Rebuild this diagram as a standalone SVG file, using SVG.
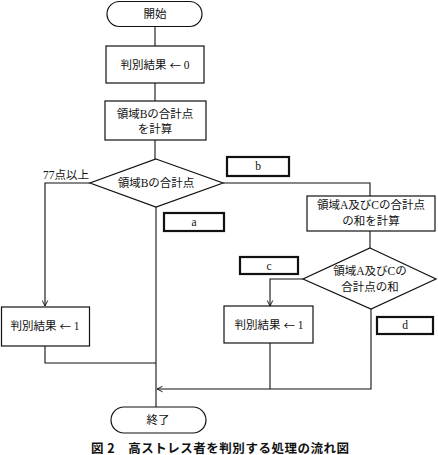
<svg xmlns="http://www.w3.org/2000/svg" width="438" height="455" viewBox="0 0 438 455">
<defs>
<style>
.s{fill:#fff;stroke:#111;stroke-width:1.2}
.k{fill:#fff;stroke:#111;stroke-width:2.2}
.l{fill:none;stroke:#111;stroke-width:1.1}
text{font-family:"Liberation Serif","Noto Sans CJK JP",serif;font-size:11.5px;fill:#111;text-anchor:middle;dominant-baseline:central}
.ar{font-family:"Noto Sans CJK JP",sans-serif}
.cap{font-family:"Noto Sans CJK JP","Liberation Sans",sans-serif;font-size:12.5px;font-weight:bold}
</style>
<marker id="ar" viewBox="0 0 10 10" refX="9" refY="5" markerWidth="7" markerHeight="7" orient="auto" markerUnits="userSpaceOnUse">
<path d="M1,1 L9,5 L1,9" fill="none" stroke="#111" stroke-width="1.3"/>
</marker>
</defs>
<g id="connectors">
<path class="l" d="M155,26 V46"/>
<path class="l" d="M155,83 V101"/>
<path class="l" d="M155,140 V159"/>
<path class="l" d="M90,183 H45 V306" marker-end="url(#ar)"/>
<path class="l" d="M223,183 H370 V196"/>
<path class="l" d="M370,231 V248"/>
<path class="l" d="M303,279 H270 V306" marker-end="url(#ar)"/>
<path class="l" d="M156,207 V407"/>
<path class="l" d="M45,346 V363 H156"/>
<path class="l" d="M371,309 V389 H157" marker-end="url(#ar)"/>
<path class="l" d="M270,343 V389"/>
</g>
<g id="start">
<rect class="s" x="107" y="1.5" width="95" height="25" rx="12.5"/>
<text x="155" y="14">開始</text>
</g>
<g id="init">
<rect class="s" x="106" y="46" width="98" height="37"/>
<text x="155" y="65">判別結果 <tspan class="ar">←</tspan> 0</text>
</g>
<g id="calcB">
<rect class="s" x="105" y="101" width="101" height="39"/>
<text x="155" y="114">領域Bの合計点</text>
<text x="155" y="129">を計算</text>
</g>
<g id="decB">
<polygon class="s" points="156,159 223,183 156,207 90,183"/>
<text x="156" y="183">領域Bの合計点</text>
</g>
<g id="label77">
<text x="66" y="175">77点以上</text>
</g>
<g id="boxA">
<rect class="k" x="164" y="213" width="60" height="18"/>
<text x="194" y="222">a</text>
</g>
<g id="boxB">
<rect class="k" x="227" y="157" width="62" height="19"/>
<text x="258" y="166">b</text>
</g>
<g id="calcAC">
<rect class="s" x="307" y="196" width="128" height="35"/>
<text x="371" y="205">領域A及びCの合計点</text>
<text x="371" y="221">の和を計算</text>
</g>
<g id="decAC">
<polygon class="s" points="370,248 436,279 371,309 303,279"/>
<text x="370" y="271">領域A及びCの</text>
<text x="370" y="287">合計点の和</text>
</g>
<g id="boxC">
<rect class="k" x="240" y="257" width="58" height="17"/>
<text x="269" y="266">c</text>
</g>
<g id="boxD">
<rect class="k" x="377" y="317" width="56" height="17"/>
<text x="405" y="325">d</text>
</g>
<g id="set1left">
<rect class="s" x="1.5" y="307" width="88" height="39"/>
<text x="45" y="326">判別結果 <tspan class="ar">←</tspan> 1</text>
</g>
<g id="set1right">
<rect class="s" x="224" y="306" width="89" height="37"/>
<text x="269" y="325">判別結果 <tspan class="ar">←</tspan> 1</text>
</g>
<g id="end">
<rect class="s" x="111" y="407" width="95" height="26" rx="13"/>
<text x="158" y="420">終了</text>
</g>
<text class="cap" x="220" y="447" textLength="258" lengthAdjust="spacing">図 2　高ストレス者を判別する処理の流れ図</text>
</svg>
